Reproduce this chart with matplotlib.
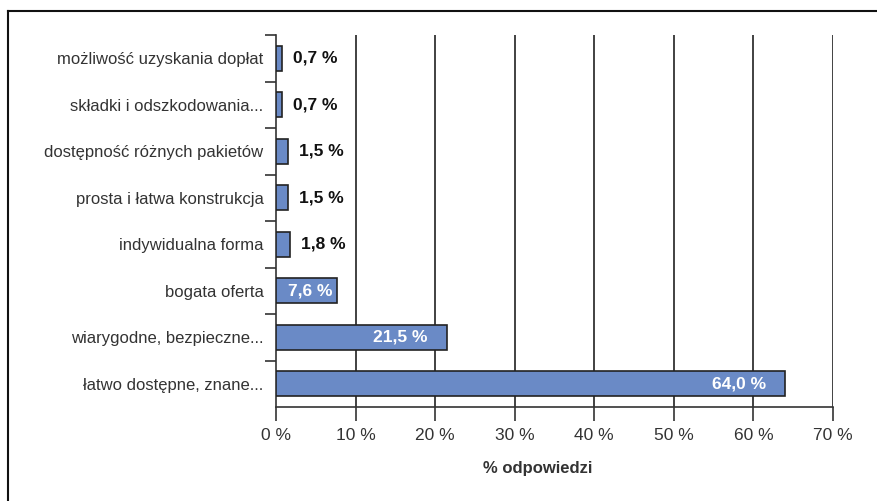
import matplotlib.pyplot as plt
from matplotlib.lines import Line2D

plt.rcParams['font.family'] = ['Liberation Sans', 'DejaVu Sans']

# odpowiedzi od góry do dołu
kategorie = [
    'możliwość uzyskania dopłat',
    'składki i odszkodowania...',
    'dostępność różnych pakietów',
    'prosta i łatwa konstrukcja',
    'indywidualna forma',
    'bogata oferta',
    'wiarygodne, bezpieczne...',
    'łatwo dostępne, znane...',
]
wartosci = [0.7, 0.7, 1.5, 1.5, 1.8, 7.6, 21.5, 64.0]
ticki_x = [0, 10, 20, 30, 40, 50, 60, 70]

fig = plt.figure(figsize=(8.78, 5.01), dpi=100)
ax = fig.add_axes([0.3144, 0.1876, 0.6343, 0.7424])

pozycje = list(range(len(kategorie)))
ax.barh(pozycje, wartosci, height=0.54, color='#6a8ac6',
        edgecolor='#222222', linewidth=1.2, zorder=3)

ax.set_xlim(0, 70)
ax.set_ylim(len(kategorie) - 0.5, -0.5)

# pionowe linie siatki
for x in ticki_x[1:]:
    ax.axvline(x, color='#333333', lw=1.3, zorder=1)

ax.set_xticks(ticki_x)
ax.set_xticklabels([f'{t} %' for t in ticki_x])
ax.set_yticks(pozycje)
ax.set_yticklabels(kategorie)
ax.set_yticks([p + 0.5 for p in pozycje[:-1]] + [-0.5], minor=True)

ax.tick_params(axis='x', which='major', length=10, width=1.2, color='#333333',
               labelsize=12.5, labelcolor='#333333', pad=5)
ax.tick_params(axis='y', which='major', length=0, labelsize=12,
               labelcolor='#333333', pad=9)
ax.tick_params(axis='y', which='minor', length=8, width=1.2, color='#333333')

for s in ('top', 'right'):
    ax.spines[s].set_visible(False)
for s in ('left', 'bottom'):
    ax.spines[s].set_color('#333333')
    ax.spines[s].set_linewidth(1.2)

ax.set_xlabel('% odpowiedzi', fontsize=12, fontweight='bold', color='#333333')
ax.xaxis.set_label_coords(0.47, -0.145)

# etykiety wartości
przesuniecia = {7.6: -3, 21.5: -14, 64.0: -14}
for p, v in zip(pozycje, wartosci):
    tekst = f'{v:.1f} %'.replace('.', ',')
    if v > 5:
        ax.annotate(tekst, (v, p), xytext=(przesuniecia[v], 0),
                    textcoords='offset points', ha='right', va='center',
                    fontsize=12.5, fontweight='bold', color='white', zorder=4)
    else:
        ax.annotate(tekst, (v, p), xytext=(8, 0), textcoords='offset points',
                    ha='left', va='center', fontsize=12.5, fontweight='bold',
                    color='#111111', zorder=4)

# ramka wokół wykresu
fig.add_artist(Line2D([0.0091, 0.0091], [0, 0.978], color='#111111', lw=1.5,
                      transform=fig.transFigure))
fig.add_artist(Line2D([0.0091, 1], [0.978, 0.978], color='#111111', lw=1.5,
                      transform=fig.transFigure))

fig.savefig('out.png', dpi=100)
